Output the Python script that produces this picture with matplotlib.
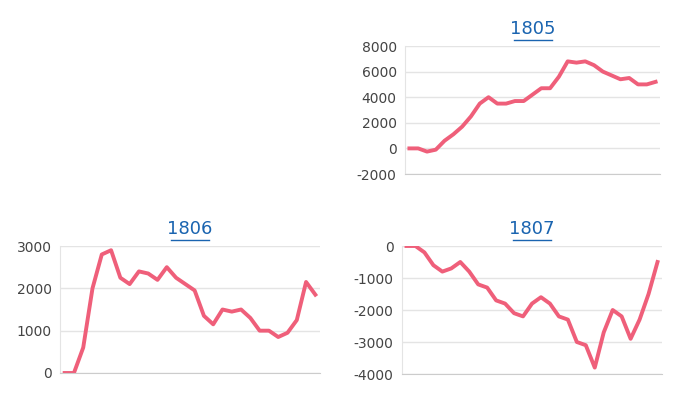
import matplotlib.pyplot as plt
import numpy as np

# values
v1805 = [0, 0, -250, -100, 600, 1100, 1700, 2500, 3500, 4000, 3500, 3500, 3700, 3700,
         4200, 4700, 4700, 5600, 6800, 6700, 6800, 6500, 6000, 5700, 5400, 5500, 5000, 5000, 5200]
v1806 = [0, 0, 600, 2000, 2800, 2900, 2250, 2100, 2400, 2350, 2200, 2500, 2250, 2100,
         1950, 1350, 1150, 1500, 1450, 1500, 1300, 1000, 1000, 850, 950, 1250, 2150, 1850]
v1807 = [0, 0, -200, -600, -800, -700, -500, -800, -1200, -1300, -1700, -1800, -2100, -2200,
         -1800, -1600, -1800, -2200, -2300, -3000, -3100, -3800, -2700, -2000, -2200, -2900,
         -2300, -1500, -500]

panels = [
    ('1805', v1805, (-2000, 8000), [-2000, 0, 2000, 4000, 6000, 8000], [405, 46, 660, 174]),
    ('1806', v1806, (0, 3000), [0, 1000, 2000, 3000], [60, 246, 320, 373]),
    ('1807', v1807, (-4000, 0), [-4000, -3000, -2000, -1000, 0], [402, 246, 662, 374]),
]

W, H = 700, 400
fig = plt.figure(figsize=(7, 4), dpi=100)
for title, vals, ylim, ticks, (x0, y0, x1, y1) in panels:
    ax = fig.add_axes([x0 / W, 1 - y1 / H, (x1 - x0) / W, (y1 - y0) / H])
    x = np.arange(len(vals))
    ax.plot(x, vals, color='#ef5f7a', lw=2.8, solid_joinstyle='round')
    ax.set_xlim(-0.5, len(vals) - 0.5)
    ax.set_ylim(*ylim)
    ax.set_yticks(ticks)
    ax.set_yticklabels([str(t) for t in ticks], fontsize=10, color='#444444')
    ax.set_xticks([])
    ax.grid(axis='y', color='#e4e4e4', lw=1)
    ax.set_axisbelow(True)
    for s in ['top', 'right']:
        ax.spines[s].set_visible(False)
    ax.spines['left'].set_color('#e4e4e4')
    ax.spines['bottom'].set_color('#cccccc')
    ax.tick_params(axis='y', length=0, pad=6)
    ax.set_title(title, fontsize=13, color='#1a64b0', pad=9)
    # underline like a link
    half = 19 / (x1 - x0)
    ax.plot([0.5 - half, 0.5 + half], [1.045, 1.045], transform=ax.transAxes,
            color='#1a64b0', lw=1, clip_on=False)

fig.savefig('out.png', dpi=100, facecolor='white')
